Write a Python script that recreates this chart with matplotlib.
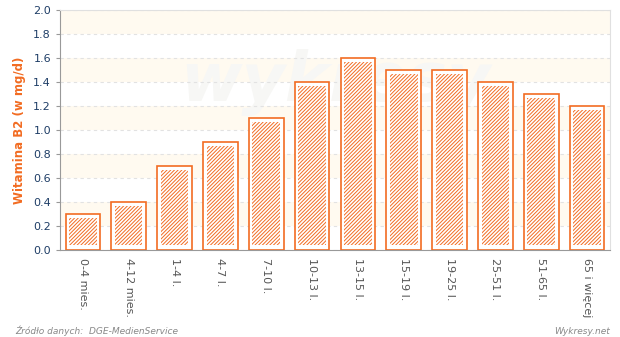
import matplotlib.pyplot as plt
import numpy as np

plt.rcParams["hatch.linewidth"] = 0.7

# ── Data ──────────────────────────────────────────────────────────────────────
groups = ["0-4 mies.", "4-12 mies.", "1-4 l.", "4-7 l.", "7-10 l.", "10-13 l.",
          "13-15 l.", "15-19 l.", "19-25 l.", "25-51 l.", "51-65 l.", "65 i więcej"]
b2_mg = [0.3, 0.4, 0.7, 0.9, 1.1, 1.4, 1.6, 1.5, 1.5, 1.4, 1.3, 1.2]

ORANGE = "#f26c22"
CREAM = "#fffaf0"
TICK_BLUE = "#1e3d66"

fig = plt.figure(figsize=(6.2, 3.37), dpi=100)
ax = fig.add_axes([60 / 620, 87 / 337, 550 / 620, 240 / 337])

# alternating background bands
for lo in np.arange(0.2, 2.0, 0.4):
    ax.axhspan(lo, lo + 0.2, color=CREAM, zorder=0, lw=0)

ax.text(0.5, 0.7, "wykresy", transform=ax.transAxes, fontsize=48,
        fontweight="bold", style="italic", color="#f7f7f5", ha="center",
        va="center", zorder=0.5)

x = np.arange(len(groups))
vals = np.array(b2_mg)
ax.bar(x, vals, width=0.76, facecolor="white", edgecolor=ORANGE, lw=1.2, zorder=2)
ax.bar(x, vals - 0.07, bottom=0.04, width=0.60, facecolor="white",
       edgecolor=ORANGE, hatch="/////////", lw=0, zorder=3)

ax.set_xlim(-0.5, len(groups) - 0.5)
ax.set_ylim(0, 2.0)
ax.set_yticks(np.arange(0, 2.01, 0.2))
ax.set_yticklabels([f"{v:.1f}" for v in np.arange(0, 2.01, 0.2)])
ax.yaxis.grid(True, linestyle=(0, (3, 3)), color="#e2e2e2", lw=0.8, zorder=1)
ax.set_axisbelow(True)

ax.set_xticks(x)
ax.set_xticklabels(groups, rotation=270, fontsize=8, color="#555555")
ax.tick_params(axis="x", length=0, pad=6)
ax.tick_params(axis="y", length=3, color="#999999", labelsize=8,
               labelcolor=TICK_BLUE)

ax.set_ylabel("Witamina B2 (w mg/d)", color=ORANGE, fontweight="bold",
              fontsize=8.5, labelpad=5)

for side in ["left", "bottom"]:
    ax.spines[side].set_color("#999999")
for side in ["top", "right"]:
    ax.spines[side].set_color("#e0e0e0")

fig.text(15 / 620, 1 - 331 / 337, "Źródło danych:  DGE-MedienService",
         fontsize=6.5, style="italic", color="#888888", va="center")
fig.text(610 / 620, 1 - 331 / 337, "Wykresy.net", fontsize=6.5,
         style="italic", color="#888888", va="center", ha="right")

fig.savefig("out.png", dpi=100, facecolor="white")
